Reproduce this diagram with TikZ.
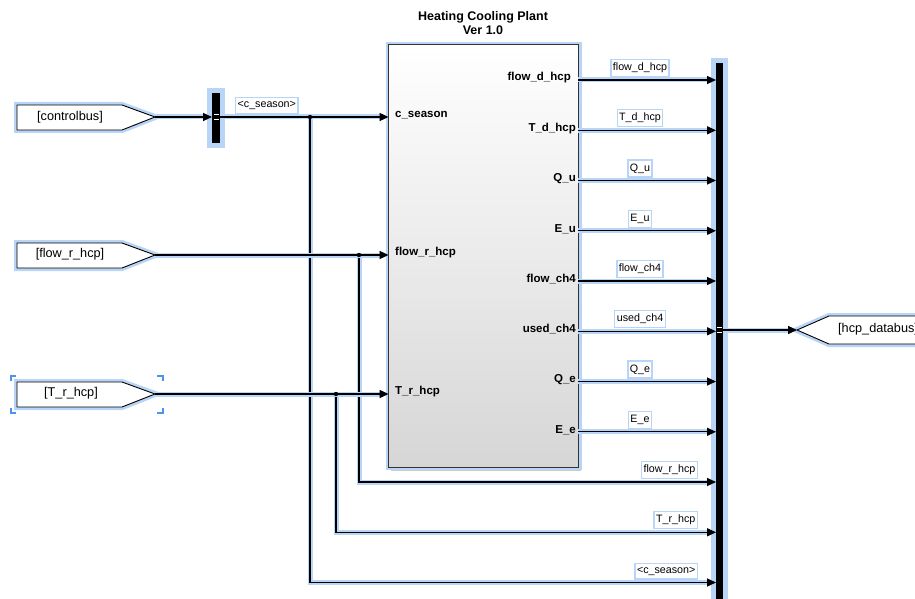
\documentclass[tikz,border=0pt]{standalone}
\usepackage{fontspec}
\setmainfont{Liberation Sans}
\usetikzlibrary{arrows.meta}
\definecolor{glow}{HTML}{B8D4F6}
\definecolor{selblue}{HTML}{4C93F0}
\begin{document}
\begin{tikzpicture}[x=1pt,y=-1pt,
  wire/.style={line width=1.1pt, line cap=butt, preaction={draw=glow,line width=5pt}},
  sig/.style={wire, -{Triangle[length=9pt,width=8pt]}},
  lbl/.style={draw=glow, line width=1.3pt, fill=white, inner xsep=2pt, inner ysep=3.6pt,
    font=\fontsize{10.7}{12}\selectfont},
  porttxt/.style={font=\bfseries\fontsize{11.5}{13}\selectfont, inner sep=0pt},
  gototxt/.style={font=\fontsize{12.7}{14}\selectfont, inner sep=0pt},
  gotoshape/.style={draw=black, line width=0.9pt, fill=white, preaction={draw=glow, line width=6pt}},
  barstyle/.style={draw=glow, line width=5pt, fill=black, inner sep=0pt},
  bracket/.style={draw=selblue, line width=2pt},
  dot/.style={fill=black}
]
\useasboundingbox (0,0) rectangle (915,599);
\clip (0,0) rectangle (915,599);

% ---------- Goto blocks ----------
\fill[gray!45] (19,107) -- (124,107) -- (157,119) -- (124,132) -- (19,132) -- cycle;
\draw[gotoshape] (17,105) -- (122,105) -- (155,117) -- (122,130) -- (17,130) -- cycle;
\node[gototxt] (gcb) at (70,117) {[controlbus]};
\coordinate (cbtip) at (155,117);

\fill[gray!45] (19,245) -- (124,245) -- (157,257) -- (124,270) -- (19,270) -- cycle;
\draw[gotoshape] (17,243) -- (122,243) -- (155,255) -- (122,268) -- (17,268) -- cycle;
\node[gototxt] (gfr) at (70,254) {[flow\_r\_hcp]};
\coordinate (frtip) at (155,255);

\fill[gray!45] (19,384) -- (124,384) -- (157,396) -- (124,409) -- (19,409) -- cycle;
\draw[gotoshape] (17,382) -- (122,382) -- (155,394) -- (122,407) -- (17,407) -- cycle;
\node[gototxt] (gtr) at (71,393) {[T\_r\_hcp]};
\coordinate (trtip) at (155,394);

% selection brackets
\draw[bracket] (11,381) -- (11,376) -- (16,376);
\draw[bracket] (157,376) -- (163,376) -- (163,381);
\draw[bracket] (11,408) -- (11,413) -- (16,413);
\draw[bracket] (157,413) -- (163,413) -- (163,408);

% hcp_databus goto (points left)
\draw[gotoshape] (797,330) -- (829,316) -- (930,316) -- (930,344) -- (829,344) -- cycle;
\node[gototxt, anchor=west] (gdb) at (838,329) {[hcp\_databus]};
\coordinate (dbtip) at (797,330);

% ---------- Bus selector ----------
\node[barstyle, minimum width=13pt, minimum height=55pt] (sel) at (216,118) {};
\fill[white] (213.5,114) rectangle (218.5,115.5);
\fill[white] (213.5,119) rectangle (218.5,120.5);
\coordinate (selin) at (212,117);
\coordinate (selout) at (220,117);

% ---------- Subsystem ----------
\fill[gray!40] (391,48) rectangle (581,471);
\node[draw=black!80, line width=1pt, top color=white, bottom color=gray!32,
      preaction={draw=glow, line width=6pt},
      minimum width=190pt, minimum height=422pt, inner sep=0pt] (hcp) at (483.5,256) {};
\node[font=\bfseries\fontsize{12.5}{14.5}\selectfont, align=center] (title) at (483,23)
  {Heating Cooling Plant\\Ver 1.0};

% input ports
\coordinate (in1) at (388.5,117);
\coordinate (in2) at (388.5,255);
\coordinate (in3) at (388.5,394);
\node[porttxt, anchor=west] (p1) at (395,115) {c\_season};
\node[porttxt, anchor=west] (p2) at (395,253) {flow\_r\_hcp};
\node[porttxt, anchor=west] (p3) at (395,392) {T\_r\_hcp};

% ---------- Bus creator ----------
\node[barstyle, minimum width=12pt, minimum height=563pt] (bc) at (719.5,342) {};
\fill[white] (717,326.5) rectangle (722,328);
\fill[white] (717,331.5) rectangle (722,333);
\coordinate (bcout) at (723,330);

% ---------- Output signals ----------
\foreach \i/\nm/\y/\tx in {1/flow\_d\_hcp/80/571,2/T\_d\_hcp/130.3/576,3/Q\_u/180.5/576,4/E\_u/230.8/576,
  5/flow\_ch4/281/576,6/used\_ch4/331.3/576,7/Q\_e/381.5/576,8/E\_e/431.8/576}{
  \coordinate (o\i) at (578,\y);
  \coordinate (b\i) at (716,\y);
  \node[porttxt, anchor=east] (op\i) at (\tx,\y-2) {\nm};
  \draw[sig] (o\i) -- (b\i);
  \node[lbl, anchor=south] (ol\i) at (640,\y-3) {\nm};
}

% ---------- Input signals ----------
\draw[sig] (cbtip) -- (selin);
\coordinate (j1) at (310,117);
\coordinate (j2) at (359,255);
\coordinate (j3) at (336,394);
\coordinate (b9) at (716,482);
\coordinate (b10) at (716,532.3);
\coordinate (b11) at (716,582.5);

\draw[sig] (j1) |- (b11);
\draw[sig] (j2) |- (b9);
\draw[sig] (j3) |- (b10);
\draw[sig] (selout) -- (in1);
\draw[sig] (frtip) -- (in2);
\draw[sig] (trtip) -- (in3);
\fill[dot] (j1) circle (2.2pt);
\fill[dot] (j2) circle (2.2pt);
\fill[dot] (j3) circle (2.2pt);

\node[lbl, anchor=south west] (l0) at (235,114) {<c\_season>};
\node[lbl, anchor=south east] (l9) at (698,479) {flow\_r\_hcp};
\node[lbl, anchor=south east] (l10) at (698,529.3) {T\_r\_hcp};
\node[lbl, anchor=south east] (l11) at (698,579.5) {<c\_season>};

% bus output
\draw[sig] (bcout) -- (dbtip);
\end{tikzpicture}
\end{document}
